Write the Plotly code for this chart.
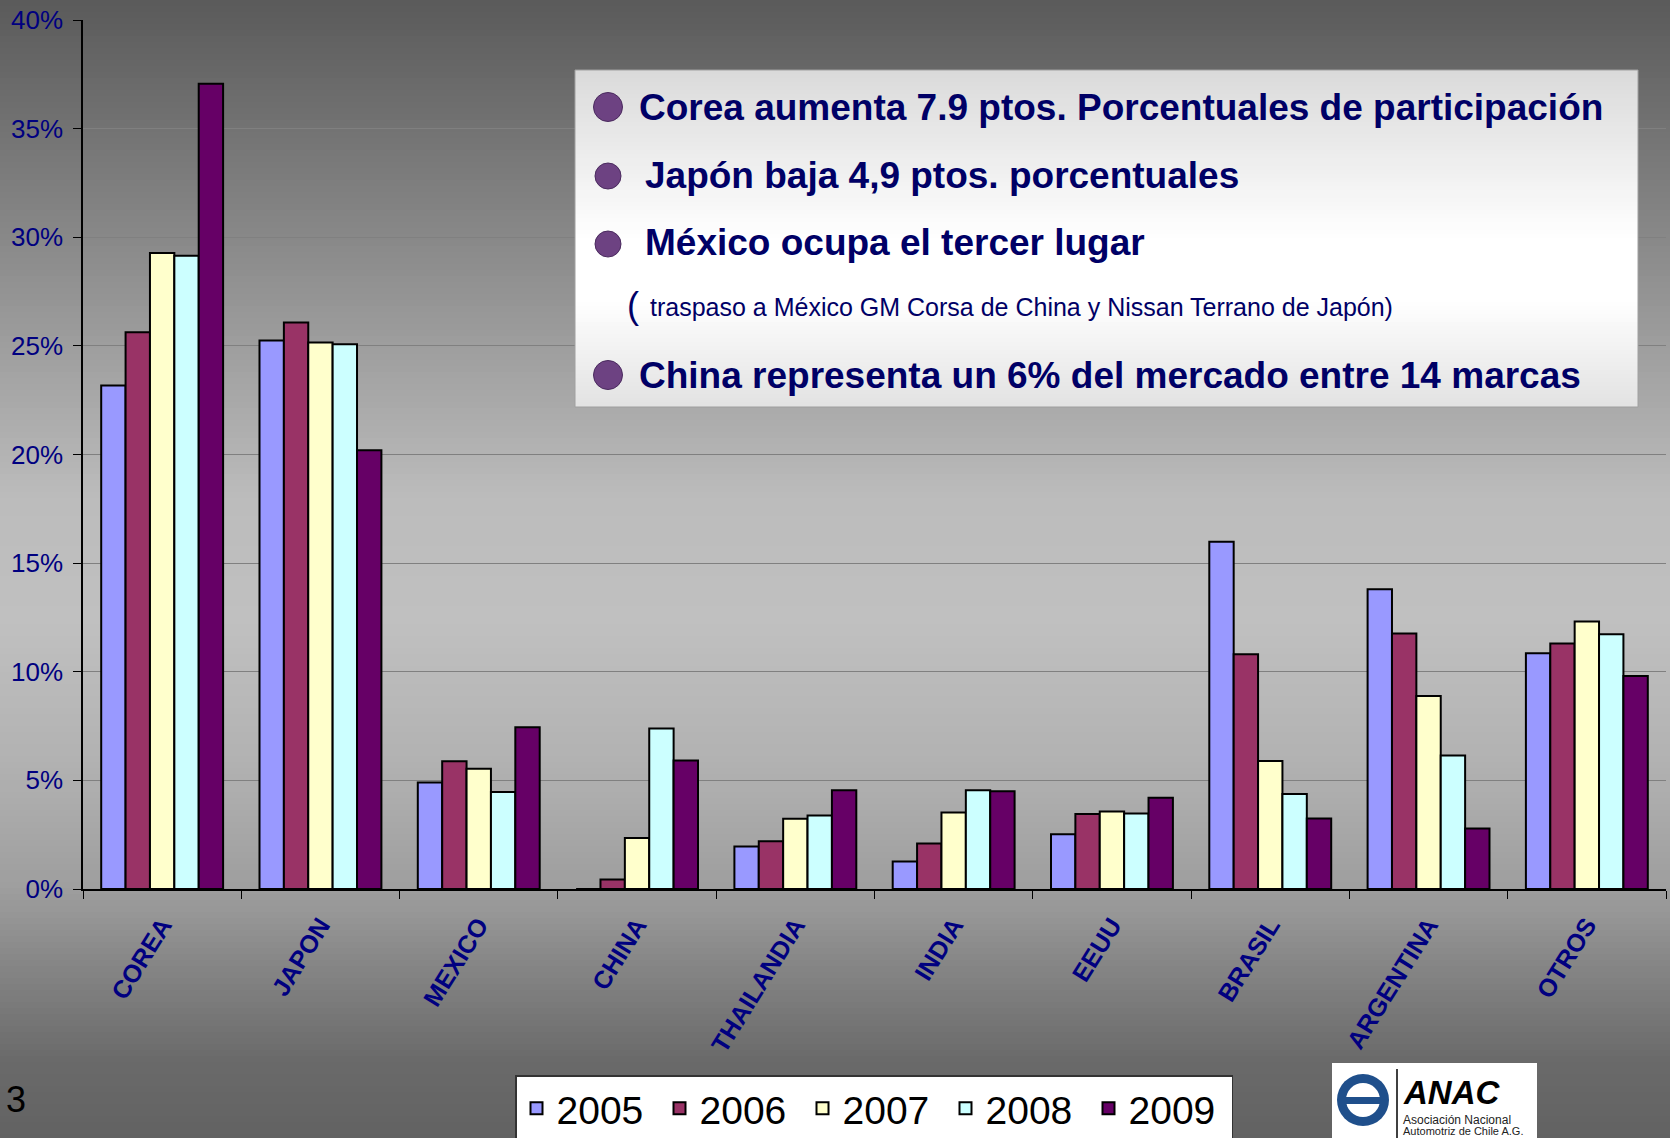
import numpy as np
import plotly.graph_objects as go

# ---------------- data ----------------
categories = ["COREA", "JAPON", "MEXICO", "CHINA", "THAILANDIA",
              "INDIA", "EEUU", "BRASIL", "ARGENTINA", "OTROS"]
years = ["2005", "2006", "2007", "2008", "2009"]
s2005 = [23.18, 25.25, 4.90, 0.00, 1.96, 1.27, 2.52, 15.98, 13.80, 10.85]
s2006 = [25.63, 26.08, 5.88, 0.44, 2.20, 2.10, 3.45, 10.81, 11.76, 11.30]
s2007 = [29.27, 25.15, 5.53, 2.35, 3.23, 3.52, 3.57, 5.89, 8.88, 12.31]
s2008 = [29.15, 25.07, 4.46, 7.39, 3.38, 4.55, 3.48, 4.37, 6.15, 11.73]
s2009 = [37.06, 20.20, 7.44, 5.92, 4.55, 4.50, 4.20, 3.25, 2.79, 9.81]
series = [s2005, s2006, s2007, s2008, s2009]
colors = ["#9999FF", "#993366", "#FFFFCC", "#CCFFFF", "#660066"]

bullets = [
    "Corea aumenta 7.9 ptos. Porcentuales de participación",
    "Japón baja 4,9 ptos. porcentuales",
    "México ocupa el tercer lugar",
    "China representa un 6% del mercado entre 14 marcas",
]
note = "traspaso a México GM Corsa de China y Nissan Terrano de Japón)"

# ---------------- geometry helpers (pixel -> paper) ----------------
W, H = 1670, 1138
L, R, T, B = 83, 1666, 20, 889


def px(x):
    return (x - L) / (R - L)


def py(y):
    return (B - y) / (B - T)


FONT = "Liberation Sans, Arial, Helvetica, sans-serif"
NAVY = "#000080"
TXT = "#000066"

fig = go.Figure()
for yr, vals, col in zip(years, series, colors):
    fig.add_trace(go.Bar(
        name=yr, x=categories, y=vals,
        marker=dict(color=col, line=dict(color="black", width=2)),
    ))

shapes = []
# background vertical gradient
stops_y = [0, 130, 346, 500, 620, 760, 889, 960, 1060, 1138]
stops_v = [90, 115, 158, 188, 192, 178, 158, 135, 106, 98]
step = 6
for y0 in range(0, H, step):
    v = int(round(np.interp(y0 + step / 2, stops_y, stops_v)))
    shapes.append(dict(type="rect", xref="paper", yref="paper", layer="below",
                       x0=px(0), x1=px(W), y0=py(y0), y1=py(y0 + step + 1),
                       fillcolor=f"rgb({v},{v},{v})", line=dict(width=0)))

# text box with gradient
bx0, bx1, by0, by1 = 575, 1638, 70, 407
bstops_y = [by0, 240, 300, by1]
bstops_v = [218, 255, 255, 226]
bstep = 4
for y0 in range(by0, by1, bstep):
    v = int(round(np.interp(y0 + bstep / 2, bstops_y, bstops_v)))
    shapes.append(dict(type="rect", xref="paper", yref="paper", layer="above",
                       x0=px(bx0), x1=px(bx1), y0=py(y0), y1=py(min(y0 + bstep + 1, by1)),
                       fillcolor=f"rgb({v},{v},{v})", line=dict(width=0)))
shapes.append(dict(type="rect", xref="paper", yref="paper", layer="above",
                   x0=px(bx0), x1=px(bx1), y0=py(by0), y1=py(by1),
                   fillcolor="rgba(0,0,0,0)", line=dict(color="#a0a0a0", width=1)))

# bullets
for cx, cy, d in [(608, 107, 29), (608, 176, 26), (608, 244, 26), (608, 375, 29)]:
    shapes.append(dict(type="circle", xref="paper", yref="paper", layer="above",
                       x0=px(cx - d / 2), x1=px(cx + d / 2), y0=py(cy + d / 2), y1=py(cy - d / 2),
                       fillcolor="#6d4282", line=dict(color="#4a2a5e", width=1)))

# logo
shapes.append(dict(type="rect", xref="paper", yref="paper", layer="above",
                   x0=px(1332), x1=px(1537), y0=py(1063), y1=py(1145),
                   fillcolor="white", line=dict(width=0)))
lcx, lcy = 1363, 1100
for r, col in [(26, "#1f4f8b"), (17, "white")]:
    shapes.append(dict(type="circle", xref="paper", yref="paper", layer="above",
                       x0=px(lcx - r), x1=px(lcx + r), y0=py(lcy + r), y1=py(lcy - r),
                       fillcolor=col, line=dict(width=0)))
shapes.append(dict(type="rect", xref="paper", yref="paper", layer="above",
                   x0=px(1344), x1=px(1382), y0=py(1104), y1=py(1097),
                   fillcolor="#1f4f8b", line=dict(width=0)))
shapes.append(dict(type="line", xref="paper", yref="paper", layer="above",
                   x0=px(1397), x1=px(1397), y0=py(1069), y1=py(1145),
                   line=dict(color="black", width=1.5)))

annotations = []
for txt, x, y in zip(bullets, [637, 643, 643, 637], [107, 176, 243, 375]):
    annotations.append(dict(text=f"<b>{txt}</b>", x=px(x), y=py(y), xref="paper", yref="paper",
                            xanchor="left", yanchor="middle", showarrow=False,
                            font=dict(family=FONT, size=37, color=TXT)))
annotations.append(dict(text="(", x=px(625), y=py(305), xref="paper", yref="paper",
                        xanchor="left", yanchor="middle", showarrow=False,
                        font=dict(family=FONT, size=36, color=TXT)))
annotations.append(dict(text=note, x=px(648), y=py(307), xref="paper", yref="paper",
                        xanchor="left", yanchor="middle", showarrow=False,
                        font=dict(family=FONT, size=25, color=TXT)))
# page number
annotations.append(dict(text="3", x=px(4), y=py(1099), xref="paper", yref="paper",
                        xanchor="left", yanchor="middle", showarrow=False,
                        font=dict(family=FONT, size=36, color="black")))
# logo texts
annotations.append(dict(text="<b><i>ANAC</i></b>", x=px(1401), y=py(1092), xref="paper", yref="paper",
                        xanchor="left", yanchor="middle", showarrow=False,
                        font=dict(family=FONT, size=33, color="black")))
annotations.append(dict(text="Asociación Nacional", x=px(1401), y=py(1120), xref="paper", yref="paper",
                        xanchor="left", yanchor="middle", showarrow=False,
                        font=dict(family=FONT, size=12, color="#222222")))
annotations.append(dict(text="Automotriz de Chile A.G.", x=px(1401), y=py(1131), xref="paper", yref="paper",
                        xanchor="left", yanchor="middle", showarrow=False,
                        font=dict(family=FONT, size=11, color="#222222")))

fig.update_layout(
    width=W, height=H,
    margin=dict(l=L, r=W - R, t=T, b=H - B, pad=0, autoexpand=False),
    paper_bgcolor="#8c8c8c",
    plot_bgcolor="rgba(0,0,0,0)",
    barmode="group", bargap=0.23, bargroupgap=0,
    shapes=shapes, annotations=annotations,
    showlegend=True,
    legend=dict(orientation="h", x=px(515), y=py(1075), xanchor="left", yanchor="top",
                bgcolor="white", bordercolor="#333333", borderwidth=1.5,
                font=dict(family=FONT, size=39, color="black"),
                entrywidth=98, entrywidthmode="pixels",
                traceorder="normal"),
    font=dict(family=FONT),
)
fig.update_yaxes(range=[0, 40], dtick=5, ticksuffix="%", showgrid=True,
                 gridcolor="#808080", gridwidth=1, zeroline=False,
                 showline=True, linecolor="black", linewidth=1.5,
                 ticks="outside", ticklen=8, tickcolor="black",
                 tickfont=dict(family=FONT, size=26, color=NAVY), ticklabelstandoff=5)
fig.update_xaxes(showline=True, linecolor="black", linewidth=1.5,
                 ticks="outside", ticklen=8, tickcolor="black", tickson="boundaries",
                 tickangle=-58, tickfont=dict(family=FONT, size=25, color=NAVY),
                 ticklabelstandoff=10,
                 tickprefix="<b>", ticksuffix="</b>")

fig.write_html("out.html", config={"displayModeBar": False},
               post_script="document.body.style.margin='0';")
